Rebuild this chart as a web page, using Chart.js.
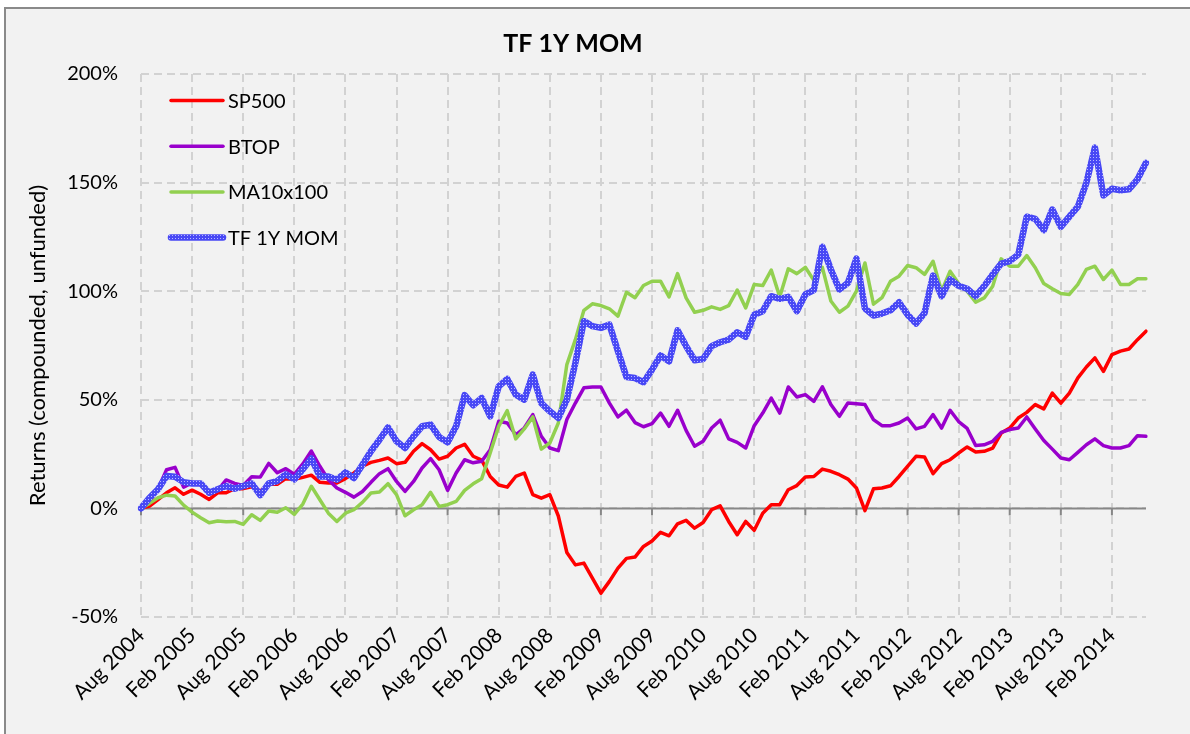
<!DOCTYPE html>
<html><head><meta charset="utf-8">
<script src="https://cdn.jsdelivr.net/npm/chart.js@4.4.1/dist/chart.umd.min.js"></script>
<style>
html,body{margin:0;padding:0;background:#fff;width:1190px;height:734px;overflow:hidden;}
#frame{position:absolute;left:4px;top:7px;width:1200px;height:740px;background:#f2f2f2;border-left:2px solid #8a8a8a;border-top:2px solid #8a8a8a;}
#wrap{position:absolute;left:0;top:0;width:1190px;height:734px;}
</style></head><body>
<div id="frame"></div>
<div id="wrap"><canvas id="c" width="1190" height="734"></canvas></div>
<script>
const categories = [
"Aug 2004","Sep 2004","Oct 2004","Nov 2004","Dec 2004",
"Jan 2005","Feb 2005","Mar 2005","Apr 2005","May 2005","Jun 2005","Jul 2005","Aug 2005","Sep 2005","Oct 2005","Nov 2005","Dec 2005",
"Jan 2006","Feb 2006","Mar 2006","Apr 2006","May 2006","Jun 2006","Jul 2006","Aug 2006","Sep 2006","Oct 2006","Nov 2006","Dec 2006",
"Jan 2007","Feb 2007","Mar 2007","Apr 2007","May 2007","Jun 2007","Jul 2007","Aug 2007","Sep 2007","Oct 2007","Nov 2007","Dec 2007",
"Jan 2008","Feb 2008","Mar 2008","Apr 2008","May 2008","Jun 2008","Jul 2008","Aug 2008","Sep 2008","Oct 2008","Nov 2008","Dec 2008",
"Jan 2009","Feb 2009","Mar 2009","Apr 2009","May 2009","Jun 2009","Jul 2009","Aug 2009","Sep 2009","Oct 2009","Nov 2009","Dec 2009",
"Jan 2010","Feb 2010","Mar 2010","Apr 2010","May 2010","Jun 2010","Jul 2010","Aug 2010","Sep 2010","Oct 2010","Nov 2010","Dec 2010",
"Jan 2011","Feb 2011","Mar 2011","Apr 2011","May 2011","Jun 2011","Jul 2011","Aug 2011","Sep 2011","Oct 2011","Nov 2011","Dec 2011",
"Jan 2012","Feb 2012","Mar 2012","Apr 2012","May 2012","Jun 2012","Jul 2012","Aug 2012","Sep 2012","Oct 2012","Nov 2012","Dec 2012",
"Jan 2013","Feb 2013","Mar 2013","Apr 2013","May 2013","Jun 2013","Jul 2013","Aug 2013","Sep 2013","Oct 2013","Nov 2013","Dec 2013",
"Jan 2014","Feb 2014","Mar 2014","Apr 2014","May 2014","Jun 2014"
];

const sp500 = [
0, 1.1, 4.1, 7.2, 9.5, 6.5, 8.4, 6.5, 4.1, 7.2,
7.2, 9.1, 9.1, 10.0, 8.0, 11.1, 11.1, 13.7, 13.4, 14.3,
15.3, 12.0, 11.7, 11.7, 13.7, 16.3, 19.4, 21.2, 22.1, 23.2,
20.6, 21.2, 26.3, 29.8, 27.0, 22.7, 24.0, 27.8, 29.5, 24.0,
22.2, 14.7, 10.8, 9.8, 14.7, 16.3, 6.3, 4.7, 6.3, -3.5,
-20.3, -26.0, -25.2, -32.1, -39.0, -33.6, -27.5, -23.0, -22.4, -17.5,
-15.0, -11.0, -12.6, -7.1, -5.5, -9.1, -6.5, -0.6, 1.2, -6.0,
-12.1, -6.0, -10.1, -2.2, 1.7, 1.7, 8.6, 10.5, 14.5, 14.7,
18.1, 17.1, 15.5, 13.5, 9.4, -1.0, 9.0, 9.4, 10.4, 14.7,
19.4, 24.0, 23.7, 16.0, 20.6, 22.4, 25.5, 28.3, 26.0, 26.3,
27.8, 34.7, 37.0, 41.6, 44.2, 47.8, 45.8, 53.1, 48.5, 53.1,
60.1, 65.1, 69.3, 63.1, 70.8, 72.4, 73.4, 77.7, 81.6
];

const btop = [
0, 3, 9, 17.8, 18.9, 9.8, 11.8, 11.8, 6.5, 8.3,
13.1, 11.5, 10.6, 14.6, 14.4, 20.7, 16.4, 18.3, 15.7, 20.5,
26.4, 19.4, 13.2, 9.4, 7.4, 5.2, 7.8, 12.0, 16.0, 18.3,
12.4, 7.8, 12.4, 18.6, 22.9, 17.8, 8.3, 16.3, 22.4, 21.0,
21.7, 27.0, 40.1, 39.3, 33.9, 37.0, 43.2, 33.2, 27.8, 26.6,
40.9, 48.5, 55.5, 55.9, 55.9, 48.5, 42.1, 45.2, 39.5, 37.6,
39.0, 43.9, 37.8, 45.2, 35.9, 28.6, 30.9, 37.0, 40.6, 32.0,
30.4, 27.8, 38.1, 43.9, 50.8, 43.9, 55.9, 51.3, 52.4, 49.3,
56.0, 47.8, 42.4, 48.5, 48.2, 47.8, 40.9, 38.1, 38.1, 39.3,
41.6, 36.6, 37.8, 43.2, 37.0, 45.2, 40.0, 36.8, 29.0, 29.3,
30.9, 35.0, 36.3, 37.0, 42.1, 36.6, 31.3, 27.3, 23.2, 22.4,
25.8, 29.3, 32.0, 28.9, 27.8, 27.8, 28.9, 33.5, 33.2
];

const ma10x100 = [
0, 2.3, 4.9, 6.1, 5.7, 1.5, -1.7, -4.3, -6.6, -5.8,
-6.1, -6.0, -7.4, -2.9, -5.5, -1.2, -1.8, 0.3, -2.8, 2.0,
10.2, 4.0, -2.2, -6.0, -2.2, -0.6, 2.8, 7.1, 7.5, 11.4,
6.3, -3.4, -0.6, 1.7, 7.4, 0.9, 1.7, 3.2, 8.3, 11.3,
13.7, 25.5, 37.8, 45.0, 32.0, 36.6, 42.1, 27.3, 30.1, 39.3,
66.2, 77.7, 91.2, 94.2, 93.4, 91.9, 88.5, 99.5, 97.0, 102.6,
104.6, 104.6, 97.4, 108.1, 96.9, 90.3, 91.2, 92.8, 91.6, 93.4,
100.5, 92.3, 103.1, 102.6, 109.7, 97.4, 110.3, 108.1, 111.0, 105.0,
111.0, 95.5, 90.3, 93.1, 100.0, 113.0, 94.0, 97.0, 104.6, 106.9,
111.8, 110.8, 107.7, 113.8, 100.0, 109.2, 103.5, 100.0, 94.9, 96.9,
102.3, 114.9, 111.5, 111.5, 116.4, 110.8, 103.5, 101.1, 98.9, 98.5,
103.1, 110.0, 111.5, 105.4, 109.7, 103.1, 103.1, 105.7, 105.7
];

const tf1yMom = [
0, 4.9, 8.8, 14.9, 14.6, 12.1, 11.5, 11.5, 7.2, 8.8,
10.3, 9.1, 10.3, 11.5, 6.1, 11.5, 12.6, 15.7, 13.4, 18.0,
23.0, 14.7, 14.7, 13.2, 16.6, 14.0, 20.1, 26.3, 31.6, 37.3,
30.9, 27.8, 33.2, 37.8, 38.6, 32.9, 30.4, 37.8, 52.2, 47.5,
50.8, 42.4, 56.2, 59.6, 52.4, 50.1, 61.6, 48.5, 44.7, 41.6,
50.1, 67.0, 86.2, 83.9, 83.1, 84.6, 72.4, 60.5, 60.0, 58.1,
63.9, 70.4, 67.7, 82.0, 74.7, 68.2, 68.8, 74.7, 76.5, 77.7,
81.1, 79.0, 89.2, 90.8, 97.7, 96.5, 97.4, 90.8, 98.5, 100.5,
120.5, 110.0, 100.8, 103.8, 115.0, 92.0, 88.8, 89.7, 91.2, 94.9,
89.2, 85.1, 90.0, 107.2, 97.7, 105.4, 102.5, 101.1, 97.7, 102.3,
107.7, 112.7, 113.8, 116.9, 134.3, 133.3, 128.1, 137.6, 129.6, 134.3,
138.9, 149.9, 166.1, 144.1, 147.2, 146.5, 146.9, 151.5, 159.1
];

const seriesNames = ["SP500", "BTOP", "MA10x100", "TF 1Y MOM"];
const yTickValues = [-50, 0, 50, 100, 150, 200];
const labelEvery = 6;

const FONT = 'Lato, "Liberation Sans", sans-serif';
const canvas = document.getElementById('c');
const ctx0 = canvas.getContext('2d');

function makePattern() {
  const p = document.createElement('canvas');
  p.width = 3; p.height = 3;
  const g = p.getContext('2d');
  g.fillStyle = '#4848f5';
  g.fillRect(0, 0, 3, 3);
  g.fillStyle = '#b8b8ff';
  g.fillRect(1, 1, 1, 1);
  return ctx0.createPattern(p, 'repeat');
}
const bluePattern = makePattern();

const zeroLinePlugin = {
  id: 'zeroLine',
  beforeDatasetsDraw(chart) {
    const {ctx, chartArea, scales} = chart;
    const y0 = scales.y.getPixelForValue(0);
    ctx.save();
    ctx.strokeStyle = '#878787';
    ctx.lineWidth = 2;
    ctx.beginPath();
    ctx.moveTo(chartArea.left, y0);
    ctx.lineTo(chartArea.right, y0);
    ctx.stroke();
    for (let i = 0; i < categories.length; i += labelEvery) {
      const x = scales.x.getPixelForValue(i);
      ctx.beginPath();
      ctx.moveTo(x, y0);
      ctx.lineTo(x, y0 + 7);
      ctx.stroke();
    }
    ctx.restore();
  }
};

const insideLegend = {
  id: 'insideLegend',
  afterDraw(chart) {
    const {ctx} = chart;
    const rows = [100.5, 146.2, 191.9, 237.6];
    ctx.save();
    chart.data.datasets.forEach((ds, i) => {
      const y = rows[i];
      ctx.strokeStyle = ds.borderColor;
      ctx.lineWidth = ds.borderWidth;
      ctx.lineCap = 'round';
      ctx.beginPath();
      ctx.moveTo(171, y);
      ctx.lineTo(223, y);
      ctx.stroke();
      ctx.fillStyle = '#000';
      ctx.font = '20px ' + FONT;
      ctx.textAlign = 'left';
      ctx.textBaseline = 'middle';
      ctx.fillText(ds.label, 228, y + 1);
    });
    ctx.restore();
  }
};

new Chart(canvas, {
  type: 'line',
  data: {
    labels: categories,
    datasets: [
      {label: seriesNames[0], data: sp500, borderColor: '#ff0000', borderWidth: 3.5, order: 4},
      {label: seriesNames[1], data: btop, borderColor: '#9900cc', borderWidth: 3.5, order: 3},
      {label: seriesNames[2], data: ma10x100, borderColor: '#92d050', borderWidth: 3.5, order: 2},
      {label: seriesNames[3], data: tf1yMom, borderColor: bluePattern, borderWidth: 6.5, order: 1}
    ]
  },
  options: {
    responsive: false,
    animation: false,
    devicePixelRatio: 1,
    elements: {
      point: {radius: 0, hoverRadius: 0},
      line: {tension: 0, borderJoinStyle: 'round', borderCapStyle: 'round', fill: false}
    },
    layout: {padding: {left: 0, right: 44, top: 0, bottom: 0}},
    plugins: {
      legend: {display: false},
      tooltip: {enabled: false},
      title: {
        display: true, text: 'TF 1Y MOM', color: '#000',
        font: {family: FONT, size: 25, weight: 'bold'},
        padding: {top: 29, bottom: 15}
      }
    },
    scales: {
      x: {
        type: 'category',
        offset: false,
        grid: {
          color: c => (c.index % labelEvery === 0 ? '#d2d2d2' : 'rgba(0,0,0,0)'),
          lineWidth: 2,
          drawTicks: false
        },
        border: {display: false, dash: [8, 5]},
        ticks: {
          autoSkip: false, maxRotation: 45, minRotation: 45, padding: 6,
          color: '#000', font: {family: FONT, size: 21},
          callback: (v, i) => (i % labelEvery === 0 ? categories[i] : '')
        },
        afterFit: s => { s.height = 117; }
      },
      y: {
        min: yTickValues[0], max: yTickValues[yTickValues.length - 1],
        afterBuildTicks: s => { s.ticks = yTickValues.map(v => ({value: v})); },
        ticks: {
          padding: 23, color: '#000', font: {family: FONT, size: 20},
          callback: v => v + '%'
        },
        grid: {color: '#d2d2d2', lineWidth: 2, drawTicks: false},
        border: {display: false, dash: [8, 5]},
        title: {
          display: true, text: 'Returns (compounded, unfunded)', color: '#000',
          font: {family: FONT, size: 22}, padding: {top: 25, bottom: 0}
        },
        afterFit: s => { s.width = 141; }
      }
    }
  },
  plugins: [zeroLinePlugin, insideLegend]
});
</script>
</body></html>
